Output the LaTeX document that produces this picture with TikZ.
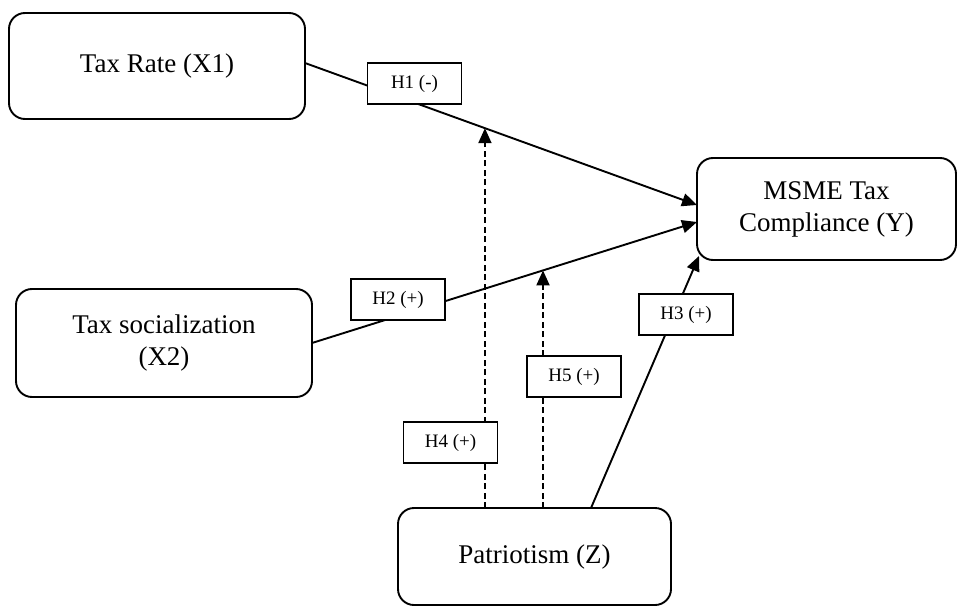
\documentclass[tikz,border=0pt]{standalone}
\usepackage{fontspec}
\setmainfont{Liberation Serif}
\usetikzlibrary{arrows.meta,calc}
\begin{document}
\begin{tikzpicture}[x=1pt,y=-1pt,
  varbox/.style={draw,line width=1.9pt,rounded corners=16pt,fill=white,align=center,
    inner sep=0pt,outer sep=0pt,font=\fontsize{27}{32}\selectfont},
  hlabel/.style={draw,line width=1.2pt,fill=white,inner sep=0pt,outer sep=0pt,
    minimum width=94pt,minimum height=41pt,font=\fontsize{19}{22}\selectfont},
  link/.style={line width=1.9pt,-{Triangle[length=15pt,width=13pt]}},
  modlink/.style={link,dash pattern=on 6pt off 3.5pt}]
\useasboundingbox (0,0) rectangle (957,607);
\node[varbox,minimum width=296pt,minimum height=106pt] (X1) at (157,66) {Tax Rate (X1)};
\node[varbox,minimum width=296pt,minimum height=108pt] (X2) at (164,343) {Tax socialization\\(X2)};
\node[varbox,minimum width=259pt,minimum height=102pt] (Y) at (826.5,209) {MSME Tax\\Compliance (Y)};
\node[varbox,minimum width=273pt,minimum height=97pt] (Z) at (534.5,556.5) {Patriotism (Z)};
\draw[link] ([yshift=3pt]X1.east) -- coordinate[pos=0.459] (m1) ([yshift=4pt]Y.west);
\draw[link] (X2.east) -- coordinate[pos=0.6] (m2) ([yshift=-13pt]Y.west);
\draw[link] ([xshift=56.5pt]Z.north) -- ([shift={(2pt,4pt)}]Y.south west);
\draw[modlink] (m1 |- Z.north) -- (m1);
\draw[modlink] (m2 |- Z.north) -- (m2);
\node[hlabel] (h1) at (414.5,83.5) {H1 (-)};
\node[hlabel] (h2) at (398,299.5) {H2 (+)};
\node[hlabel] (h3) at (686,314.5) {H3 (+)};
\node[hlabel] (h5) at (574,376.5) {H5 (+)};
\node[hlabel] (h4) at (450.5,442.5) {H4 (+)};
\end{tikzpicture}
\end{document}
